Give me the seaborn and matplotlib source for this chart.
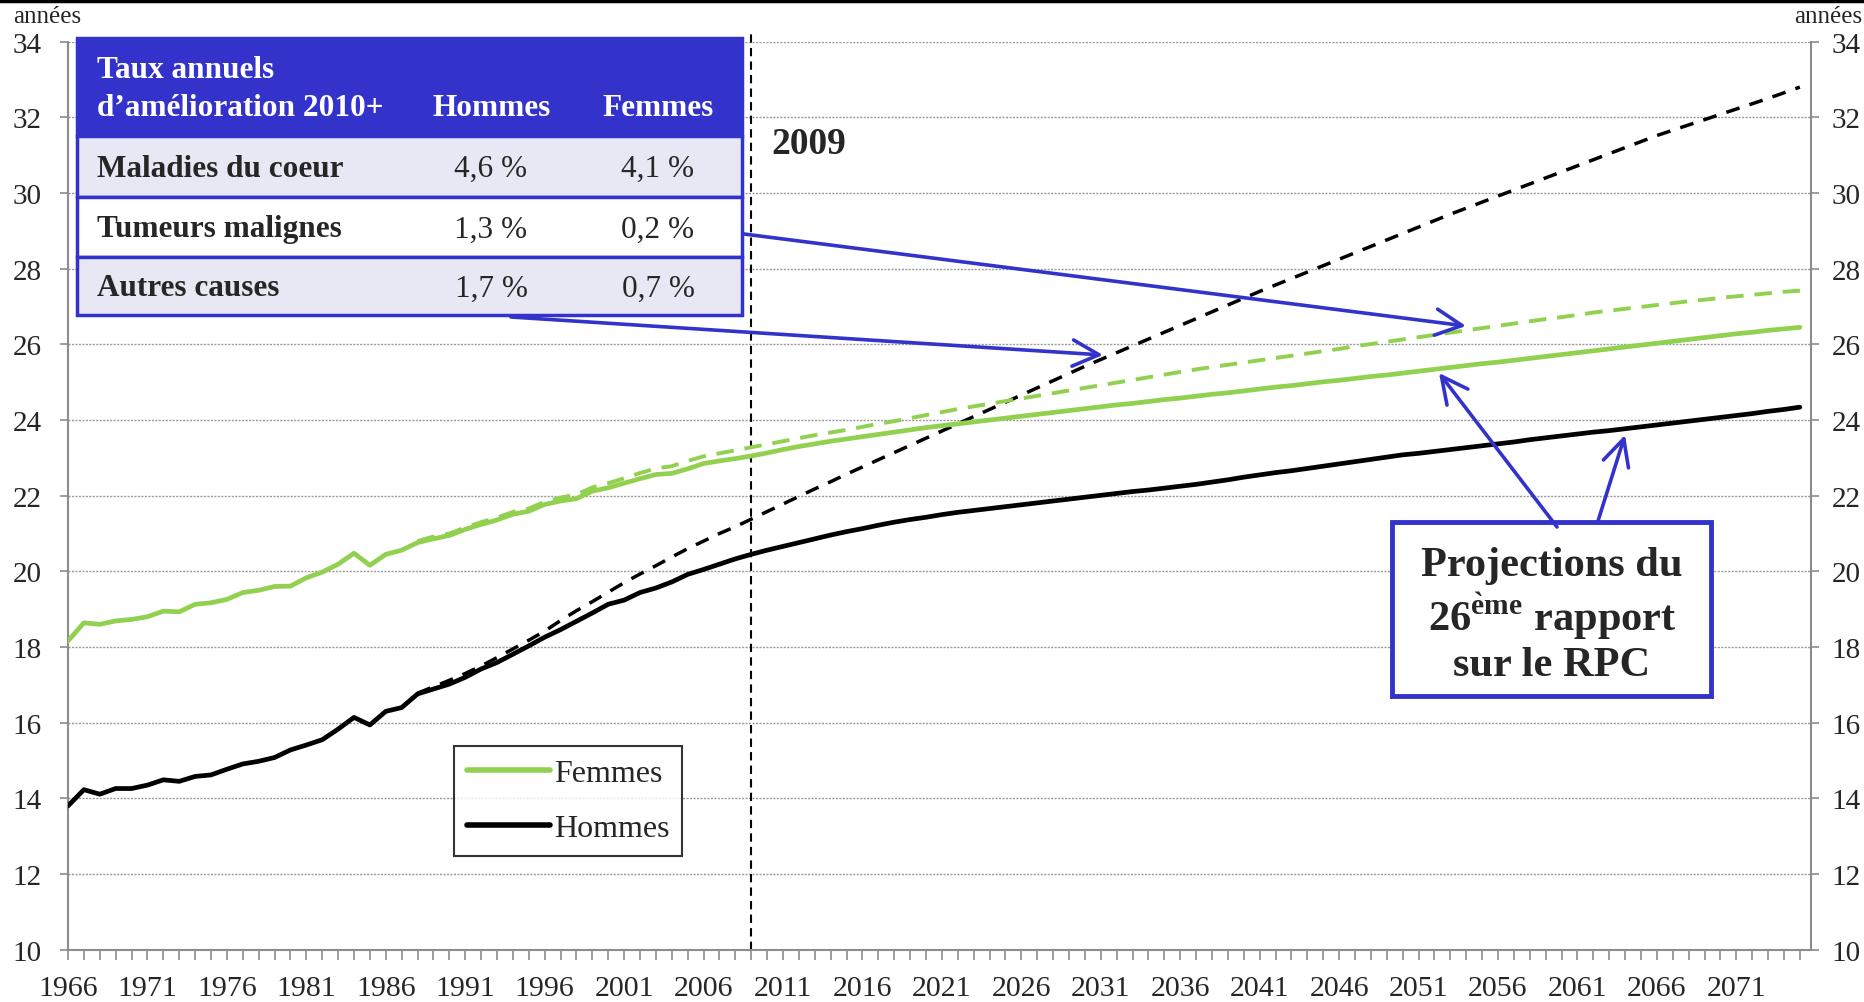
import numpy as np
import pandas as pd
import matplotlib
matplotlib.use("Agg")
import matplotlib.pyplot as plt
import seaborn as sns
from matplotlib.patches import Rectangle, FancyArrowPatch
from matplotlib.lines import Line2D

# Data
years = np.arange(1966, 2076)
hommes = [13.80, 14.23, 14.11, 14.26, 14.26, 14.35, 14.49, 14.45, 14.58, 14.62,
          14.77, 14.91, 14.98, 15.08, 15.28, 15.41, 15.55, 15.83, 16.14, 15.94,
          16.30, 16.40, 16.76, 16.89, 17.02, 17.20, 17.42, 17.59, 17.81, 18.03,
          18.26, 18.46, 18.68, 18.90, 19.13, 19.24, 19.44, 19.56, 19.72, 19.92,
          20.05, 20.19, 20.33, 20.45,
          20.56, 20.66, 20.76, 20.86, 20.96, 21.05, 21.13, 21.22, 21.30, 21.37,
          21.43, 21.50, 21.56, 21.61, 21.66, 21.71, 21.76, 21.81, 21.86, 21.91,
          21.96, 22.01, 22.06, 22.11, 22.15, 22.20, 22.25, 22.30, 22.36, 22.42,
          22.49, 22.55, 22.61, 22.66, 22.72, 22.78, 22.84, 22.90, 22.96, 23.02,
          23.08, 23.12, 23.17, 23.22, 23.27, 23.32, 23.37, 23.42, 23.48, 23.53,
          23.58, 23.63, 23.68, 23.72, 23.77, 23.82, 23.87, 23.92, 23.97, 24.02,
          24.07, 24.12, 24.17, 24.23, 24.28, 24.34]
femmes = [18.16, 18.64, 18.60, 18.69, 18.73, 18.80, 18.95, 18.93, 19.13, 19.17,
          19.26, 19.44, 19.50, 19.60, 19.61, 19.83, 19.98, 20.19, 20.48, 20.16,
          20.45, 20.56, 20.76, 20.86, 20.95, 21.11, 21.24, 21.36, 21.51, 21.59,
          21.77, 21.86, 21.92, 22.12, 22.21, 22.33, 22.45, 22.56, 22.59, 22.71,
          22.85, 22.92, 22.98, 23.05,
          23.13, 23.22, 23.30, 23.37, 23.44, 23.50, 23.56, 23.62, 23.68, 23.74,
          23.80, 23.85, 23.90, 23.95, 24.00, 24.05, 24.10, 24.15, 24.20, 24.25,
          24.30, 24.35, 24.40, 24.44, 24.49, 24.54, 24.58, 24.63, 24.68, 24.72,
          24.77, 24.82, 24.87, 24.91, 24.96, 25.01, 25.05, 25.10, 25.15, 25.19,
          25.24, 25.29, 25.34, 25.39, 25.44, 25.49, 25.53, 25.58, 25.63, 25.68,
          25.73, 25.78, 25.83, 25.88, 25.93, 25.98, 26.03, 26.08, 26.13, 26.18,
          26.23, 26.28, 26.32, 26.37, 26.41, 26.45]

years_rpc = np.arange(1988, 2076)
hommes_rpc = [16.78, 16.95, 17.12, 17.30, 17.50, 17.72, 17.95, 18.18, 18.42, 18.70,
              18.96, 19.20, 19.45, 19.70, 19.93, 20.15, 20.38, 20.60, 20.80, 21.00,
              21.18, 21.38, 21.58, 21.78, 21.98, 22.18, 22.37, 22.57, 22.76, 22.95,
              23.14, 23.33, 23.52, 23.71, 23.90, 24.09, 24.28, 24.47, 24.66, 24.85,
              25.04, 25.23, 25.42, 25.60, 25.78, 25.96, 26.14, 26.32, 26.50, 26.68,
              26.86, 27.04, 27.22, 27.40, 27.57, 27.74, 27.91, 28.08, 28.25, 28.42,
              28.59, 28.76, 28.93, 29.10, 29.27, 29.44, 29.60, 29.76, 29.92, 30.08,
              30.24, 30.40, 30.56, 30.72, 30.88, 31.04, 31.20, 31.36, 31.52, 31.66,
              31.80, 31.94, 32.08, 32.22, 32.36, 32.50, 32.65, 32.80]
femmes_rpc = [20.80, 20.92, 21.00, 21.16, 21.30, 21.42, 21.57, 21.66, 21.84, 21.95,
              22.03, 22.22, 22.33, 22.46, 22.60, 22.72, 22.78, 22.92, 23.04, 23.12,
              23.20, 23.28, 23.36, 23.44, 23.52, 23.60, 23.67, 23.74, 23.82, 23.90,
              23.97, 24.05, 24.13, 24.21, 24.29, 24.36, 24.43, 24.50, 24.57, 24.64,
              24.71, 24.78, 24.85, 24.92, 24.99, 25.06, 25.13, 25.20, 25.27, 25.34,
              25.40, 25.46, 25.52, 25.58, 25.64, 25.70, 25.76, 25.82, 25.88, 25.95,
              26.01, 26.07, 26.13, 26.19, 26.25, 26.31, 26.37, 26.43, 26.49, 26.55,
              26.61, 26.67, 26.72, 26.78, 26.84, 26.89, 26.94, 26.99, 27.04, 27.09,
              27.14, 27.18, 27.23, 27.27, 27.31, 27.35, 27.39, 27.42]

table_header = ["Taux annuels", "d\u2019am\u00e9lioration 2010+", "Hommes", "Femmes"]
table_rows = ["Maladies du coeur", "Tumeurs malignes", "Autres causes"]
taux_hommes = ["4,6 %", "1,3 %", "1,7 %"]
taux_femmes = ["4,1 %", "0,2 %", "0,7 %"]

GREEN = "#92D050"
BLUE = "#3333CC"
GRID = "#9a9a9a"
AXIS = "#8c8c8c"

sns.set_style("white")
plt.rcParams['font.family'] = ['Liberation Serif', 'DejaVu Serif']
plt.rcParams['mathtext.fontset'] = 'custom'
plt.rcParams['mathtext.rm'] = 'Liberation Serif'
plt.rcParams['mathtext.bf'] = 'Liberation Serif:bold'

W, H = 1864, 1003
fig = plt.figure(figsize=(W / 100, H / 100), dpi=100)


def fx(px):
    return px / W


def fy(py):
    return 1 - py / H


ax = fig.add_axes([fx(68), fy(950.7), (1811 - 68) / W, (950.7 - 42.7) / H])

df = pd.DataFrame({"annee": years, "hommes": hommes, "femmes": femmes})
df_rpc = pd.DataFrame({"annee": years_rpc, "hommes": hommes_rpc, "femmes": femmes_rpc})

sns.lineplot(data=df_rpc, x="annee", y="hommes", ax=ax, color="black", lw=2.5, zorder=3)
ax.lines[-1].set_dashes((4, 3))
sns.lineplot(data=df_rpc, x="annee", y="femmes", ax=ax, color=GREEN, lw=2.8, zorder=3)
ax.lines[-1].set_dashes((4.5, 2.8))
sns.lineplot(data=df, x="annee", y="femmes", ax=ax, color=GREEN, lw=3.4, zorder=4)
sns.lineplot(data=df, x="annee", y="hommes", ax=ax, color="black", lw=3.4, zorder=4)

ax.set_xlim(1966, 2075.7)
ax.set_ylim(10, 34)
ax.set_xlabel("")
ax.set_ylabel("")
ax.set_yticks(np.arange(10, 35, 2))
ax.set_xticks(np.arange(1966, 2072, 5))
ax.set_xticks(np.arange(1966, 2076), minor=True)
ax.tick_params(axis="x", which="both", direction="out", length=7, width=1.2,
               color=AXIS, labelsize=21.5, pad=11, bottom=True)
ax.tick_params(axis="y", which="major", direction="out", length=6, width=1.2,
               color=AXIS, labelsize=21, pad=13, left=True)
ax.yaxis.grid(True, linestyle=(0, (1.5, 1)), color=GRID, linewidth=1.0)
ax.set_axisbelow(True)
for s in ["left", "right", "bottom"]:
    ax.spines[s].set_color(AXIS)
    ax.spines[s].set_linewidth(1.5)
ax.spines["top"].set_visible(False)

ax2 = ax.twinx()
ax2.set_ylim(10, 34)
ax2.set_yticks(np.arange(10, 35, 2))
ax2.tick_params(axis="y", direction="out", length=6, width=1.2, color=AXIS,
                labelsize=21, pad=9, right=True)
for s in ax2.spines.values():
    s.set_visible(False)

# vertical 2009 marker
ax.plot([2009, 2009], [10, 34.27], color="black", lw=1.5, ls=(0, (4, 2.5)),
        clip_on=False, zorder=2)
ax.text(2010.3, 31.3, "2009", fontsize=27, fontweight="bold", va="center", ha="left")

# legend
handles = [Line2D([], [], color=GREEN, lw=4), Line2D([], [], color="black", lw=4)]
leg = ax.legend(handles, ["Femmes", "Hommes"], loc="upper left",
                bbox_to_anchor=(fx(454), fy(747)), bbox_transform=fig.transFigure,
                fontsize=23, frameon=True, fancybox=False, edgecolor="black",
                handlelength=2.6, handletextpad=0.12, labelspacing=0.8,
                borderpad=0.4, borderaxespad=0)
leg.get_frame().set_linewidth(1.5)

# table
rows_y = [39, 137, 198, 258, 316]
fills = [BLUE, "#E8E8F5", "white", "#E8E8F5"]
for i in range(4):
    fig.patches.append(Rectangle((fx(77), fy(rows_y[i + 1])), (742 - 77) / W,
                                 (rows_y[i + 1] - rows_y[i]) / H,
                                 transform=fig.transFigure, facecolor=fills[i],
                                 edgecolor=BLUE, lw=2.5, zorder=5))
hdr = dict(color="white", fontsize=22.5, fontweight="bold", va="center", zorder=6)
fig.text(fx(97), fy(71), table_header[0], ha="left", **hdr)
fig.text(fx(97), fy(109), table_header[1], ha="left", **hdr)
fig.text(fx(492), fy(109), table_header[2], ha="center", **hdr)
fig.text(fx(658), fy(109), table_header[3], ha="center", **hdr)
for i, lab in enumerate(table_rows):
    yc = (rows_y[i + 1] + rows_y[i + 2]) / 2 + 2
    fig.text(fx(97), fy(yc), lab, fontsize=22.5, fontweight="bold", va="center",
             ha="left", zorder=6)
    fig.text(fx(491), fy(yc), taux_hommes[i], fontsize=22.5, va="center",
             ha="center", zorder=6)
    fig.text(fx(658), fy(yc), taux_femmes[i], fontsize=22.5, va="center",
             ha="center", zorder=6)

# projection box
fig.patches.append(Rectangle((fx(1392), fy(697)), (1711 - 1392) / W, (697 - 523) / H,
                             transform=fig.transFigure, facecolor="white",
                             edgecolor=BLUE, lw=3.5, zorder=5))
box = dict(fontsize=30.5, fontweight="bold", ha="center", va="center", zorder=6)
fig.text(fx(1552), fy(566), "Projections du", **box)
fig.text(fx(1552), fy(616), r"26$^{\mathbf{\`eme}}$ rapport", **box)
fig.text(fx(1552), fy(666), "sur le RPC", **box)

# arrows
arrows = [((744, 235), (1466, 327)), ((511, 318), (1103, 356)),
          ((1557, 528), (1439, 374)), ((1598, 522), (1625, 436))]
for a, b in arrows:
    fig.patches.append(FancyArrowPatch((fx(a[0]), fy(a[1])), (fx(b[0]), fy(b[1])),
                                       transform=fig.transFigure,
                                       arrowstyle="->,head_length=0.9,head_width=0.45",
                                       mutation_scale=21, color=BLUE, lw=2.6,
                                       shrinkA=0, shrinkB=0, zorder=7))

# "années" labels and top rule
fig.text(fx(13), fy(17), "ann\u00e9es", fontsize=18, ha="left", va="center")
fig.text(fx(1862), fy(17), "ann\u00e9es", fontsize=18, ha="right", va="center")
fig.lines.append(Line2D([0, 1], [fy(2), fy(2)], transform=fig.transFigure,
                        color="black", lw=2.5))

fig.savefig("out.png", dpi=100)
